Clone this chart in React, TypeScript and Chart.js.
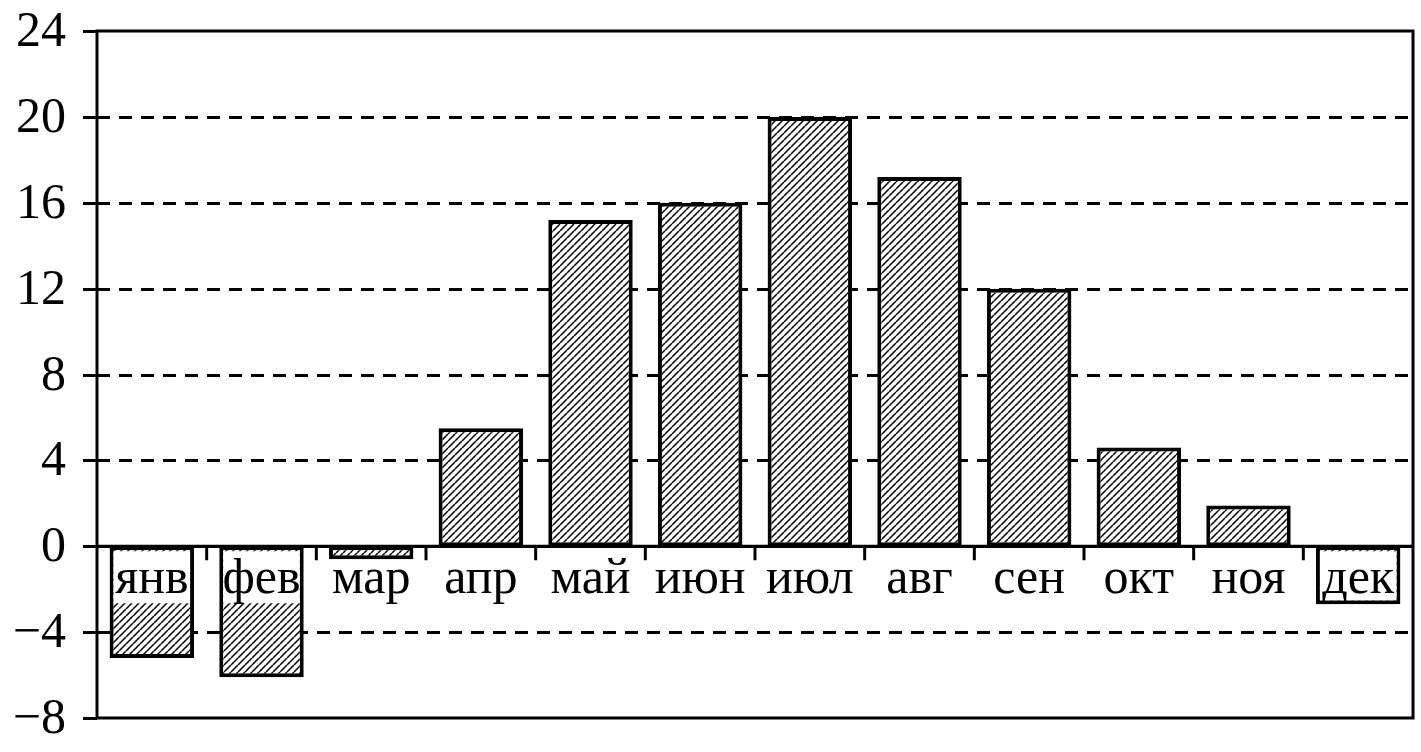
import React, { useEffect, useRef } from "react";
import { Chart, registerables } from "chart.js";

Chart.register(...registerables);

const categories = ["янв", "фев", "мар", "апр", "май", "июн", "июл", "авг", "сен", "окт", "ноя", "дек"];
const values = [-5.2, -6.1, -0.6, 5.5, 15.2, 16, 20, 17.2, 12, 4.6, 1.9, -2.7];
const yTicks = [-8, -4, 0, 4, 8, 12, 16, 20, 24];

const FONT = "'Liberation Serif', 'Times New Roman', serif";
const BAR_BORDER = 4;

function makeHatch(): CanvasPattern | string {
  const c = document.createElement("canvas");
  const s = 7;
  c.width = s;
  c.height = s;
  const g = c.getContext("2d");
  if (!g) return "#fff";
  g.fillStyle = "#fff";
  g.fillRect(0, 0, s, s);
  g.strokeStyle = "#000";
  g.lineWidth = 1.5;
  g.beginPath();
  for (const o of [-s, 0, s]) {
    g.moveTo(o, s);
    g.lineTo(o + s, 0);
  }
  g.stroke();
  const p = g.createPattern(c, "repeat");
  return p || "#fff";
}

const framePlugin = {
  id: "frame",
  beforeDatasetsDraw(chart: any) {
    const { ctx, chartArea } = chart;
    const y = chart.scales.y;
    ctx.save();
    ctx.strokeStyle = "#000";
    ctx.lineWidth = 3;
    for (const v of yTicks) {
      if (v === 24 || v === -8) continue;
      const py = Math.round(y.getPixelForValue(v)) + 0.5;
      ctx.setLineDash(v === 0 ? [] : [13, 9]);
      ctx.beginPath();
      ctx.moveTo(chartArea.left, py);
      ctx.lineTo(chartArea.right, py);
      ctx.stroke();
    }
    ctx.setLineDash([]);
    ctx.font = `50px ${FONT}`;
    ctx.fillStyle = "#000";
    ctx.textAlign = "right";
    ctx.textBaseline = "middle";
    for (const v of yTicks) {
      const py = Math.round(y.getPixelForValue(v)) + 0.5;
      ctx.beginPath();
      ctx.moveTo(chartArea.left - 14, py);
      ctx.lineTo(chartArea.left, py);
      ctx.stroke();
      ctx.fillText(String(v).replace("-", "\u2212"), chartArea.left - 31, py + 1);
    }
    const x = chart.scales.x;
    const zy = y.getPixelForValue(0);
    const step = x.getPixelForValue(1) - x.getPixelForValue(0);
    for (let i = 0; i < categories.length - 1; i++) {
      const px = x.getPixelForValue(i) + step / 2;
      ctx.beginPath();
      ctx.moveTo(px, zy);
      ctx.lineTo(px, zy + 14);
      ctx.stroke();
    }
    ctx.restore();
  },
  afterDatasetsDraw(chart: any) {
    const { ctx, chartArea } = chart;
    const y = chart.scales.y;
    const zy = y.getPixelForValue(0);
    const meta = chart.getDatasetMeta(0);
    ctx.save();
    ctx.font = `50px ${FONT}`;
    ctx.textAlign = "center";
    ctx.textBaseline = "alphabetic";
    meta.data.forEach((bar: any, i: number) => {
      const half = bar.width / 2;
      let top = zy + 5;
      let bottom = zy + 57;
      if (bar.y > zy && bar.y < zy + 25) top = bar.y + 3;
      if (bar.y > zy + 25 && bar.y - BAR_BORDER < bottom) bottom = bar.y - BAR_BORDER;
      ctx.fillStyle = "#fff";
      ctx.fillRect(bar.x - half + BAR_BORDER, top, bar.width - 2 * BAR_BORDER, bottom - top);
      ctx.fillStyle = "#000";
      ctx.fillText(categories[i], bar.x, zy + 47);
    });
    ctx.strokeStyle = "#000";
    ctx.lineWidth = 3;
    ctx.beginPath();
    ctx.moveTo(chartArea.left, zy);
    ctx.lineTo(chartArea.right, zy);
    ctx.stroke();
    ctx.strokeRect(chartArea.left, chartArea.top, chartArea.right - chartArea.left, chartArea.bottom - chartArea.top);
    ctx.restore();
  },
};

export default function App() {
  const ref = useRef<HTMLCanvasElement | null>(null);
  useEffect(() => {
    if (!ref.current) return;
    const hatch = makeHatch();
    const chart = new Chart(ref.current, {
      type: "bar",
      data: {
        labels: categories,
        datasets: [
          {
            data: values,
            backgroundColor: hatch as any,
            borderColor: "#000",
            borderWidth: BAR_BORDER,
            borderSkipped: false,
            categoryPercentage: 1,
            barPercentage: 0.77,
          },
        ],
      },
      options: {
        responsive: false,
        animation: false,
        layout: { padding: { left: 0, top: 31, right: 8, bottom: 34 } },
        plugins: { legend: { display: false }, tooltip: { enabled: false } },
        scales: {
          x: { display: false },
          y: {
            min: -8,
            max: 24,
            afterFit: (s: any) => {
              s.width = 97;
            },
            ticks: { display: false, stepSize: 4 },
            grid: { display: false },
            border: { display: false },
          },
        },
      },
      plugins: [framePlugin],
    });
    return () => chart.destroy();
  }, []);
  return (
    <div style={{ position: "fixed", left: 0, top: 0, width: 1421, height: 752, background: "#fff" }}>
      <canvas ref={ref} width={1421} height={752} />
    </div>
  );
}
